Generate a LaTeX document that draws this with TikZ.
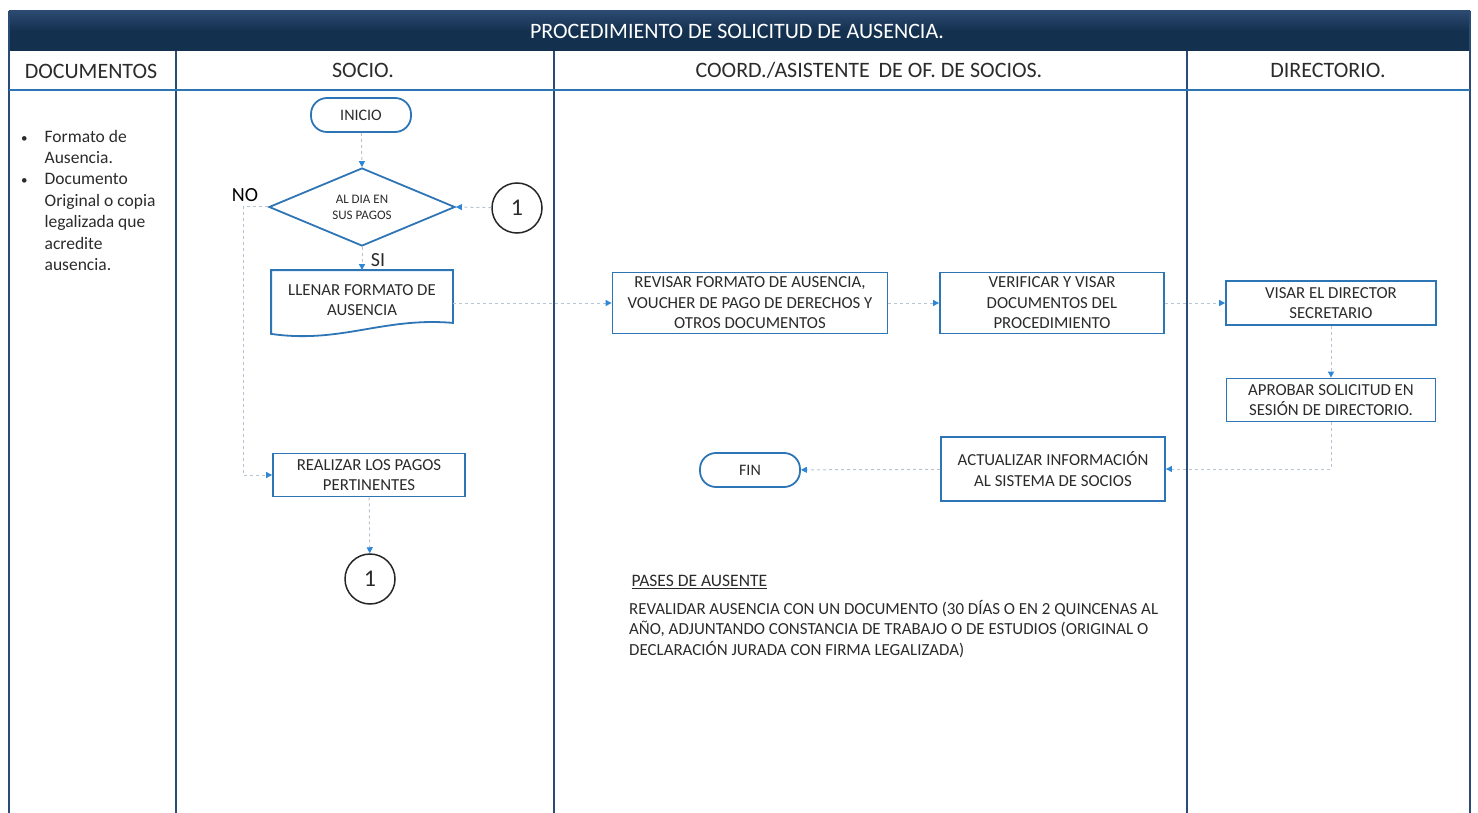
\documentclass[tikz,border=0pt]{standalone}
\usepackage{fontspec}
\setmainfont{Carlito}
\usetikzlibrary{shapes.geometric,arrows.meta}

\definecolor{navy}{HTML}{14304F}
\definecolor{navytop}{HTML}{2C4A70}
\definecolor{lanecol}{HTML}{2A4A78}
\definecolor{boxblue}{HTML}{2E75B6}
\definecolor{arrowblue}{HTML}{2E86D6}
\definecolor{linegray}{HTML}{B8C4CF}
\definecolor{textgray}{HTML}{2B2B2B}

\newcommand{\boxfont}{\fontsize{16.8}{20.5}\selectfont}
\newcommand{\termfont}{\fontsize{16}{18}\selectfont}
\newcommand{\headfont}{\fontsize{22}{24}\selectfont}
\newcommand{\docbullet}{{\fontsize{13}{13}\selectfont\textbullet}}

\begin{document}
\begin{tikzpicture}
[   x=1pt, y=-1pt,
    proc/.style={draw=boxblue, line width=1.8pt, fill=white, text=textgray, align=center, font=\boxfont, inner sep=2pt},
    term/.style={draw=boxblue, line width=1.8pt, rounded corners=16pt, minimum width=100pt, minimum height=34pt, font=\termfont, text=textgray},
    conn/.style={draw=black!85, circle, line width=1.5pt, minimum size=50pt, inner sep=0pt, font=\fontsize{24}{24}\selectfont, text=textgray},
    flow/.style={draw=linegray, dashed, line width=1pt, -{Triangle[length=6pt,width=6pt,color=arrowblue]}},
    lane/.style={draw=lanecol, line width=1.6pt},
]
\useasboundingbox (0,0) rectangle (1478,813);

% title band and lanes
\shade[top color=navytop, bottom color=navy, middle color=navy] (9,11) rectangle (1470,51);
\node[text=white, font=\fontsize{22}{24}\selectfont] (ttl) at (737,31) {PROCEDIMIENTO DE SOLICITUD DE AUSENCIA.};
\draw[lane] (9,11) -- (9,813);
\draw[lane] (1470,11) -- (1470,813);
\draw[lane] (176,51) -- (176,813);
\draw[lane] (554,51) -- (554,813);
\draw[lane] (1187,51) -- (1187,813);
\draw[draw=boxblue, line width=1.6pt] (9,90) -- (1470,90);

\node[font=\headfont, text=textgray] (hdoc) at (91,71) {DOCUMENTOS};
\node[font=\headfont, text=textgray] (hsocio) at (363,70) {SOCIO.};
\node[font=\headfont, text=textgray] (hcoord) at (869,70) {COORD./ASISTENTE \,DE OF. DE SOCIOS.};
\node[font=\headfont, text=textgray] (hdir) at (1328,70) {DIRECTORIO.};

% documentos
\node[anchor=north west, inner sep=0pt, text=textgray, font=\fontsize{17.5}{21.4}\selectfont] (docs) at (21,127)
{\begin{tabular}{@{}l@{\hspace{17pt}}l@{}}
\docbullet & Formato de\\
 & Ausencia.\\
\docbullet & Documento\\
 & Original o copia\\
 & legalizada que\\
 & acredite\\
 & ausencia.
\end{tabular}};

% socio
\node[term] (inicio) at (361,115) {INICIO};
\node[draw=boxblue, line width=1.8pt, diamond, aspect=2.4, minimum width=186pt, minimum height=78pt, inner sep=0pt, align=center, text=textgray, font=\fontsize{13}{16}\selectfont] (dia) at (362,207) {AL DIA EN\\SUS PAGOS};
\node[conn] (c1a) at (517,208) {1};
\node[font=\fontsize{20}{20}\selectfont, text=black] (no) at (245,195) {NO};
\node[font=\fontsize{20}{20}\selectfont, text=textgray] (si) at (378,260) {SI};
\node[proc, draw=none, fill=none, minimum width=180pt, minimum height=58pt] (llenar) at (362,300) {LLENAR FORMATO DE\\AUSENCIA};
\draw[draw=boxblue, line width=1.8pt] ([yshift=-4pt]llenar.south west) -- (llenar.north west) -- (llenar.north east) -- ([yshift=7pt]llenar.south east)
  .. controls +(-70,-6) and +(70,10) .. ([yshift=-4pt]llenar.south west) -- cycle;
\node[proc, minimum width=192pt, minimum height=43pt] (realizar) at (369,475) {REALIZAR LOS PAGOS\\PERTINENTES};
\node[conn] (c1b) at (370,579) {1};
\coordinate (noturn) at (243,207);

% coordinacion
\node[proc, minimum width=275pt, minimum height=61pt] (revisar) at (750,303) {REVISAR FORMATO DE AUSENCIA,\\VOUCHER DE PAGO DE DERECHOS Y\\OTROS DOCUMENTOS};
\node[proc, minimum width=224pt, minimum height=61pt] (verificar) at (1052,303) {VERIFICAR Y VISAR\\DOCUMENTOS DEL\\PROCEDIMIENTO};
\node[proc, minimum width=224pt, minimum height=64pt] (actualizar) at (1053,469) {ACTUALIZAR INFORMACIÓN\\AL SISTEMA DE SOCIOS};
\node[term] (fin) at (750,470) {FIN};
\node[anchor=west, text=textgray, font=\fontsize{17.5}{20}\selectfont] (pases) at (628,582) {\underline{PASES DE AUSENTE}};
\node[anchor=north west, align=left, inner sep=0pt, text=textgray, font=\fontsize{16.9}{20.5}\selectfont] (nota) at (629,600)
{REVALIDAR AUSENCIA CON UN DOCUMENTO (30 DÍAS O EN 2 QUINCENAS AL\\
AÑO, ADJUNTANDO CONSTANCIA DE TRABAJO O DE ESTUDIOS (ORIGINAL O\\
DECLARACIÓN JURADA CON FIRMA LEGALIZADA)};

% directorio
\node[proc, minimum width=210pt, minimum height=44pt] (visar) at (1331,303) {VISAR EL DIRECTOR\\SECRETARIO};
\node[proc, minimum width=209pt, minimum height=43pt] (aprobar) at (1331,400) {APROBAR SOLICITUD EN\\SESIÓN DE DIRECTORIO.};

% flujo
\draw[flow] (inicio) -- (dia.north);
\draw[flow] (c1a) -- (dia.east);
\draw[flow] (dia.south) -- (llenar.north);
\draw[flow] (dia.west) -- (noturn) |- (realizar.west);
\draw[flow] (revisar.west -| llenar.east) -- (revisar.west);
\draw[flow] (revisar) -- (verificar);
\draw[flow] (verificar) -- (visar);
\draw[flow] (visar) -- (aprobar);
\draw[flow] (aprobar.south) |- (actualizar.east);
\draw[flow] (actualizar) -- (fin);
\draw[flow] (realizar) -- (c1b);

\end{tikzpicture}
\end{document}
